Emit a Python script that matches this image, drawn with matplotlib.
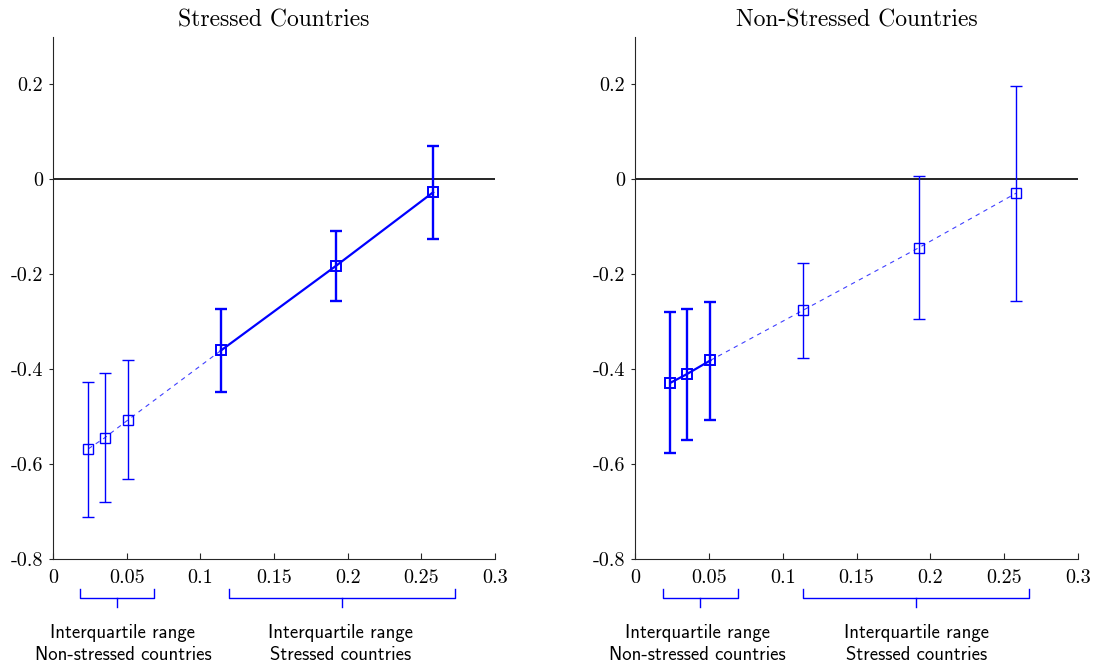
import matplotlib
matplotlib.use('Agg')
import matplotlib.pyplot as plt
from matplotlib.ticker import FuncFormatter
from matplotlib.transforms import blended_transform_factory

plt.rcParams['axes.unicode_minus'] = False

# ---- data ----
x_vals = [0.024, 0.035, 0.051, 0.114, 0.192, 0.258]

stressed_est = [-0.568, -0.545, -0.507, -0.361, -0.183, -0.028]
stressed_lo = [-0.711, -0.679, -0.631, -0.449, -0.257, -0.127]
stressed_hi = [-0.427, -0.409, -0.382, -0.274, -0.109, 0.070]

nonstressed_est = [-0.429, -0.411, -0.382, -0.276, -0.145, -0.030]
nonstressed_lo = [-0.577, -0.549, -0.507, -0.376, -0.295, -0.257]
nonstressed_hi = [-0.281, -0.273, -0.259, -0.176, 0.007, 0.196]

titles = ["Stressed Countries", "Non-Stressed Countries"]
xticks = [0, 0.05, 0.1, 0.15, 0.2, 0.25, 0.3]
yticks = [0.2, 0, -0.2, -0.4, -0.6, -0.8]

iqr_left = [(0.0183, 0.0688), (0.1193, 0.2727)]
iqr_right = [(0.0192, 0.0695), (0.1136, 0.2671)]
iqr_text_left = [0.0475, 0.195]
iqr_text_right = [0.0425, 0.1905]
iqr_labels = ["Interquartile range\nNon-stressed countries",
              "Interquartile range\nStressed countries"]

BLUE = '#0000ff'

fig = plt.figure(figsize=(10.99, 6.68), dpi=100)
ax_l = fig.add_axes([53/1099, 1-559/668, 442/1099, 522.5/668])
ax_r = fig.add_axes([635/1099, 1-559/668, 443/1099, 522.5/668])


def fmt(v, pos):
    return '%g' % v


def draw_panel(ax, est, lo, hi, solid_idx, dash_idx, thick_idx, brackets, text_x, title):
    ax.axhline(0, color='black', lw=1.2, zorder=1)
    # connecting lines
    ax.plot([x_vals[i] for i in dash_idx], [est[i] for i in dash_idx],
            color=BLUE, lw=0.8, ls=(0, (4, 4)), alpha=0.75, zorder=2)
    ax.plot([x_vals[i] for i in solid_idx], [est[i] for i in solid_idx],
            color=BLUE, lw=1.6, zorder=2)
    for i in range(len(x_vals)):
        thick = i in thick_idx
        ax.errorbar([x_vals[i]], [est[i]],
                    yerr=[[est[i] - lo[i]], [hi[i] - est[i]]],
                    fmt='none', ecolor=BLUE, elinewidth=1.7 if thick else 1.0,
                    capsize=4.0, capthick=1.7 if thick else 1.0, zorder=3)
        ax.plot([x_vals[i]], [est[i]], marker='s', ms=7, mfc='none',
                mec=BLUE, mew=1.4 if thick else 1.0, ls='none', zorder=4)
    ax.set_xlim(0, 0.3)
    ax.set_ylim(-0.8, 0.3)
    ax.set_xticks(xticks)
    ax.set_yticks(yticks)
    ax.xaxis.set_major_formatter(FuncFormatter(fmt))
    ax.yaxis.set_major_formatter(FuncFormatter(fmt))
    for lab in ax.get_xticklabels() + ax.get_yticklabels():
        lab.set_fontfamily('cmr10')
        lab.set_fontsize(14.5)
    ax.tick_params(axis='x', direction='in', length=4, width=0.8, pad=7, colors='#262626',
                   labelcolor='black')
    ax.tick_params(axis='y', direction='out', length=3, width=0.8, pad=4, colors='#262626',
                   labelcolor='black')
    for s in ['top', 'right']:
        ax.spines[s].set_visible(False)
    for s in ['left', 'bottom']:
        ax.spines[s].set_color('#262626')
        ax.spines[s].set_linewidth(0.8)
    ax.set_title(title, fontfamily='cmr10', fontsize=17, pad=7)

    tr = blended_transform_factory(ax.transData, ax.transAxes)
    ya, yb, yc = -0.0574, -0.0746, -0.0919
    for (a, b) in brackets:
        m = (a + b) / 2
        ax.plot([a, a, b, b], [ya, yb, yb, ya], color=BLUE, lw=1.0,
                transform=tr, clip_on=False)
        ax.plot([m, m], [yb, yc], color=BLUE, lw=1.0, transform=tr, clip_on=False)
    for tx, lab in zip(text_x, iqr_labels):
        ax.text(tx, -0.124, lab, transform=tr, ha='center', va='top',
                fontfamily='cmss10', fontsize=13.5, linespacing=1.32)


draw_panel(ax_l, stressed_est, stressed_lo, stressed_hi,
           solid_idx=[3, 4, 5], dash_idx=[0, 1, 2, 3], thick_idx=[3, 4, 5],
           brackets=iqr_left, text_x=iqr_text_left, title=titles[0])
draw_panel(ax_r, nonstressed_est, nonstressed_lo, nonstressed_hi,
           solid_idx=[0, 1, 2], dash_idx=[2, 3, 4, 5], thick_idx=[0, 1, 2],
           brackets=iqr_right, text_x=iqr_text_right, title=titles[1])

fig.savefig('out.png', dpi=100)
